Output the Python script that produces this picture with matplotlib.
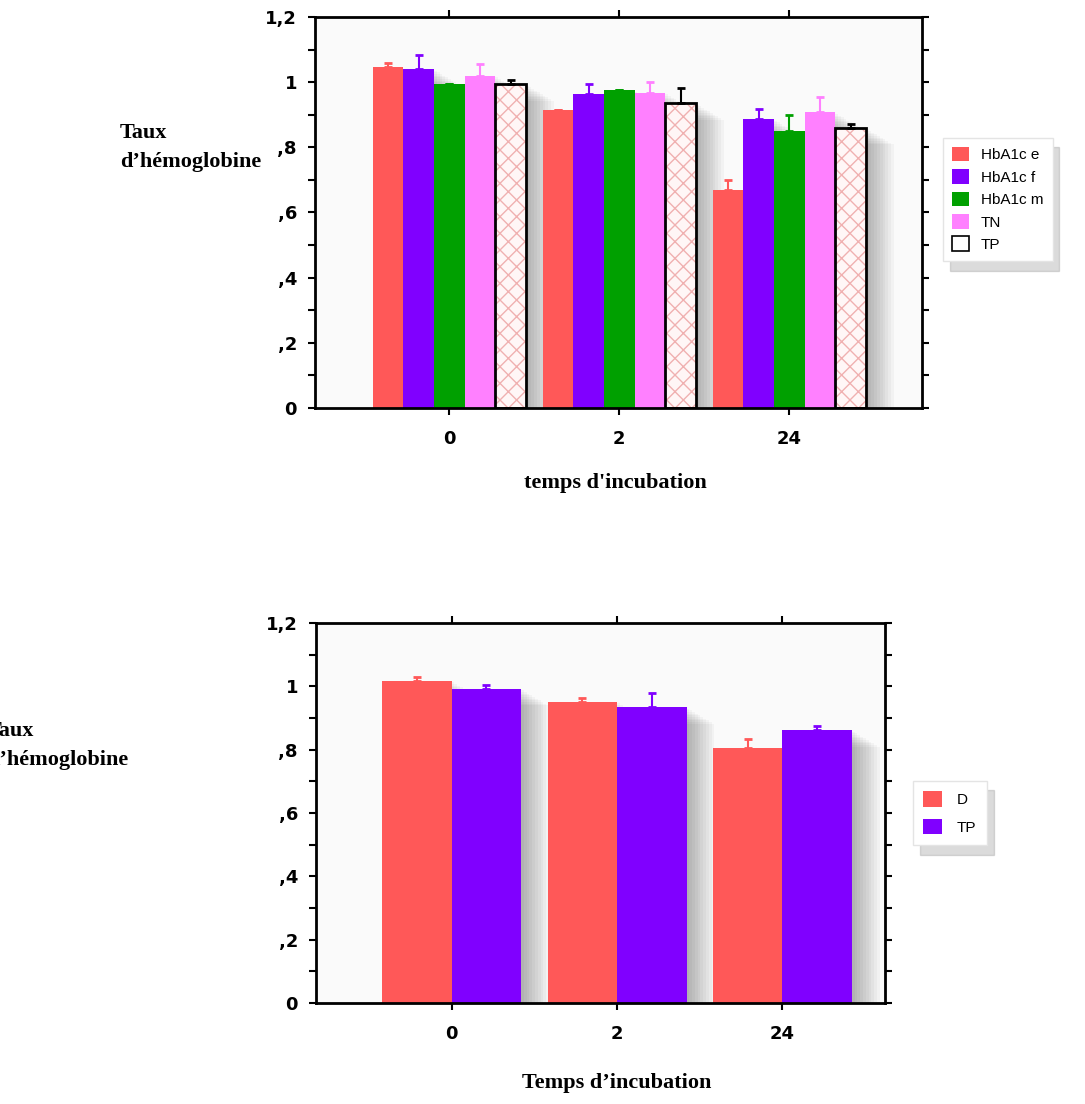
import numpy as np
import matplotlib
matplotlib.use("Agg")
import matplotlib.pyplot as plt
from matplotlib.patches import Patch
import matplotlib.patheffects as pe

# data
times = ["0", "2", "24"]
series_top = ["HbA1c e", "HbA1c f", "HbA1c m", "TN", "TP"]
hb_e = [1.046, 0.914, 0.670]
hb_f = [1.040, 0.963, 0.887]
hb_m = [0.994, 0.975, 0.850]
tn = [1.020, 0.968, 0.907]
tp = [0.994, 0.936, 0.860]
hb_e_err = [0.014, 0.0, 0.030]
hb_f_err = [0.042, 0.030, 0.030]
hb_m_err = [0.0, 0.0, 0.048]
tn_err = [0.035, 0.032, 0.048]
tp_err = [0.012, 0.045, 0.012]

series_bot = ["D", "TP"]
d_vals = [1.018, 0.952, 0.805]
d_err = [0.013, 0.010, 0.030]
tp2_vals = [0.993, 0.935, 0.862]
tp2_err = [0.012, 0.045, 0.012]

yticks = [0, 0.2, 0.4, 0.6, 0.8, 1.0, 1.2]
ytick_labels = ["0", ",2", ",4", ",6", ",8", "1", "1,2"]

RED = "#ff5858"
PURPLE = "#8000ff"
GREEN = "#00a000"
PINK = "#ff80ff"
HATCH = "#f0b0b0"

W, H = 1085, 1104
fig = plt.figure(figsize=(W / 100, H / 100), dpi=100)

# soft grey shadow to the lower right of each bar
SHADOW = [pe.SimplePatchShadow(offset=(k, -k * 0.6), shadow_rgbFace="black", alpha=0.03)
          for k in range(2, 22, 2)]

def draw_bars(ax, pos, v, w, err, color, ecol, hatched=False):
    # shadow-only layer under every bar
    sh = ax.bar(pos, v, w, color="#fafafa", linewidth=0, zorder=1.5)
    for b in sh:
        b.set_path_effects(SHADOW + [pe.Normal()])
    if hatched:
        ax.bar(pos, v, w, facecolor="#fff6f6", edgecolor=HATCH, hatch="xx",
               linewidth=0, zorder=2)
        ax.bar(pos, v, w, facecolor="none", edgecolor="black", linewidth=2, zorder=3)
    else:
        ax.bar(pos, v, w, color=color, zorder=2)
    ax.errorbar(pos, v, yerr=[np.zeros(len(v)), err], fmt="none", ecolor=ecol,
                elinewidth=1.5, capsize=3, capthick=2, zorder=4)

def style_axes(ax, xlim):
    ax.set_xlim(*xlim)
    ax.set_ylim(0, 1.2)
    ax.set_yticks(yticks)
    ax.set_yticklabels(ytick_labels)
    ax.set_yticks(np.arange(0.1, 1.2, 0.2), minor=True)
    ax.set_xticks(range(len(times)))
    ax.set_xticklabels(times)
    for s in ax.spines.values():
        s.set_linewidth(2)
    ax.tick_params(which="both", direction="out", top=True, right=True,
                   length=5, width=1.5, labelsize=13)
    ax.tick_params(axis="x", pad=11)
    ax.tick_params(axis="y", pad=8)
    for lab in ax.get_xticklabels() + ax.get_yticklabels():
        lab.set_fontweight("heavy")
    ax.set_facecolor("#fafafa")

# ---- top chart ----
ax1 = fig.add_axes([315 / W, 1 - 408 / H, 607 / W, 391 / H])
x = np.arange(len(times))
bw = 0.18
vals = [hb_e, hb_f, hb_m, tn, tp]
errs = [hb_e_err, hb_f_err, hb_m_err, tn_err, tp_err]
cols = [RED, PURPLE, GREEN, PINK, None]
for i, (v, e, c) in enumerate(zip(vals, errs, cols)):
    pos = x + (i - 2) * bw
    if c is None:
        draw_bars(ax1, pos, v, bw, e, None, "black", hatched=True)
    else:
        draw_bars(ax1, pos, v, bw, e, c, c)
style_axes(ax1, (-0.79, 2.78))

handles = [Patch(facecolor=RED), Patch(facecolor=PURPLE), Patch(facecolor=GREEN),
           Patch(facecolor=PINK), Patch(facecolor="white", edgecolor="black", linewidth=1.2)]
leg1 = fig.legend(handles, series_top, loc="upper left",
                  bbox_to_anchor=(935 / W, 1 - 130 / H), frameon=True,
                  prop={"family": "Liberation Sans", "size": 11},
                  handlelength=1.1, handleheight=1.1, labelspacing=0.45,
                  borderpad=0.6, handletextpad=0.8, fancybox=False,
                  shadow={"color": "0.6", "alpha": 0.35, "ox": 5, "oy": -7})
leg1.get_frame().set_edgecolor("#e4e4e4")

fig.text(120 / W, 1 - 148 / H, "Taux\nd’hémoglobine", ha="left", va="center",
         family="Liberation Serif", fontweight="bold", fontsize=16, linespacing=1.6)
fig.text(615 / W, 1 - 483 / H, "temps d'incubation", ha="center", va="center",
         family="Liberation Serif", fontweight="bold", fontsize=16)

# ---- bottom chart ----
ax2 = fig.add_axes([316 / W, 1 - 1003 / H, 569 / W, 380 / H])
bw2 = 0.42
for i, (v, e, c) in enumerate([(d_vals, d_err, RED), (tp2_vals, tp2_err, PURPLE)]):
    pos = x + (i - 0.5) * bw2
    draw_bars(ax2, pos, v, bw2, e, c, c)
style_axes(ax2, (-0.82, 2.62))

leg2 = fig.legend([Patch(facecolor=RED), Patch(facecolor=PURPLE)], series_bot,
                  loc="upper left", bbox_to_anchor=(905 / W, 1 - 773 / H),
                  prop={"family": "Liberation Sans", "size": 11},
                  handlelength=1.2, handleheight=1.2, labelspacing=0.75,
                  borderpad=0.7, handletextpad=1.0, fancybox=False,
                  shadow={"color": "0.6", "alpha": 0.35, "ox": 5, "oy": -7})
leg2.get_frame().set_edgecolor("#e4e4e4")

fig.text(-13 / W, 1 - 745 / H, "Taux\nd’hémoglobine", ha="left", va="center",
         family="Liberation Serif", fontweight="bold", fontsize=16, linespacing=1.6)
fig.text(617 / W, 1 - 1083 / H, "Temps d’incubation", ha="center", va="center",
         family="Liberation Serif", fontweight="bold", fontsize=16)

fig.savefig("out.png", dpi=100)
